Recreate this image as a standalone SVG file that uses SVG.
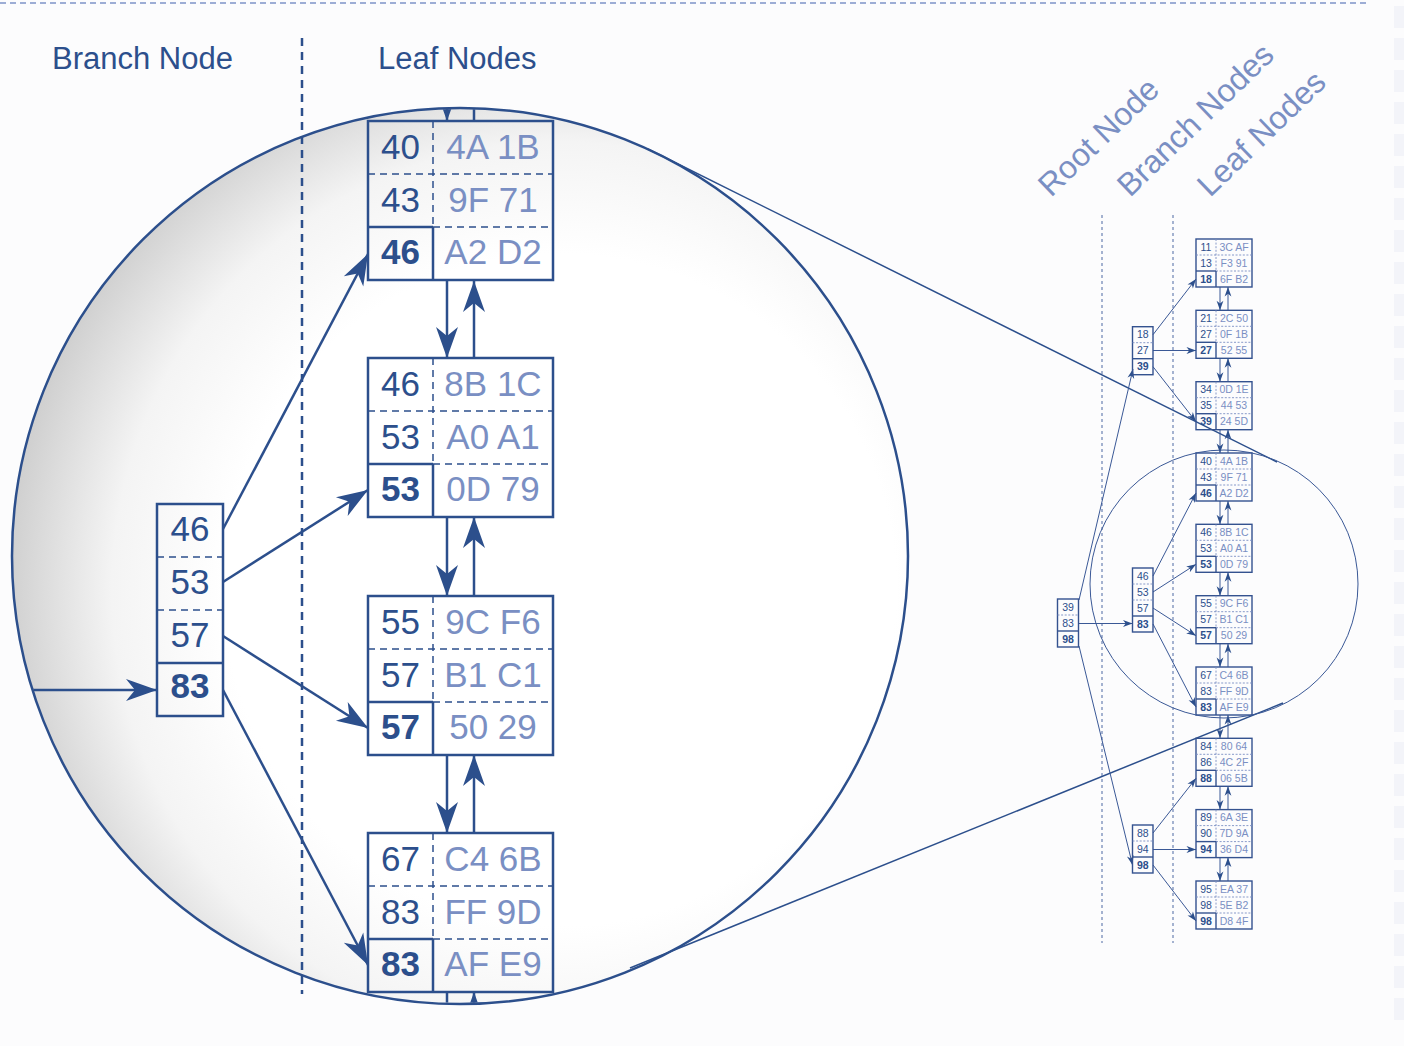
<svg xmlns="http://www.w3.org/2000/svg" width="1404" height="1046" viewBox="0 0 1404 1046">
<defs>
<style>
text{font-family:"Liberation Sans",Arial,Helvetica,sans-serif}
.bk{font-size:35px;fill:#2c4f8c;text-anchor:middle}
.bv{font-size:35px;fill:#7a8fc3;text-anchor:middle}
.b{font-weight:bold}
.bbox{fill:none;stroke:#2c4f8c;stroke-width:2.5}
.bdash{fill:none;stroke:#2c4f8c;stroke-width:1.5;stroke-dasharray:7,5}
.bsol{fill:none;stroke:#2c4f8c;stroke-width:2.5}
.bcon{fill:none;stroke:#2c4f8c;stroke-width:2.5}
.sk{font-size:10.5px;fill:#2c4f8c;text-anchor:middle}
.sv{font-size:10.5px;fill:#7a8fc3;text-anchor:middle}
.sbox{fill:none;stroke:#34528f;stroke-width:1.4}
.sdash{fill:none;stroke:#7a8fc3;stroke-width:0.9;stroke-dasharray:2,1.6}
.ssol{fill:none;stroke:#34528f;stroke-width:1.4}
.scon{fill:none;stroke:#3a5896;stroke-width:1}
.title{font-size:31px;fill:#2c4f8c}
.rot{font-size:32px;fill:#7a8fc3}
</style>
<radialGradient id="lens" gradientUnits="userSpaceOnUse" cx="560" cy="590" r="560">
<stop offset="0.6" stop-color="#ffffff"/>
<stop offset="0.8" stop-color="#f4f4f4"/>
<stop offset="1" stop-color="#cdcdcd"/>
</radialGradient>
<clipPath id="lensclip"><circle cx="460" cy="556" r="447"/></clipPath>
<marker id="ab" markerUnits="userSpaceOnUse" markerWidth="40" markerHeight="40" refX="0" refY="0" orient="auto" overflow="visible">
<path d="M0,0 L-31,-11 L-22,0 L-31,11 Z" fill="#2c4f8c"/>
</marker>
<marker id="as" markerUnits="userSpaceOnUse" markerWidth="12" markerHeight="12" refX="0" refY="0" orient="auto" overflow="visible">
<path d="M0,0 L-9.5,-3.4 L-6.8,0 L-9.5,3.4 Z" fill="#2c4f8c"/>
</marker>
</defs>

<rect x="0" y="0" width="1404" height="1046" fill="#fcfcfd"/>
<g id="edge-pattern" fill="#f3f4f9">
<rect x="1394" y="6" width="10" height="22"/><rect x="1394" y="38" width="10" height="22"/><rect x="1394" y="70" width="10" height="22"/><rect x="1394" y="102" width="10" height="22"/><rect x="1394" y="134" width="10" height="22"/><rect x="1394" y="166" width="10" height="22"/><rect x="1394" y="198" width="10" height="22"/><rect x="1394" y="230" width="10" height="22"/><rect x="1394" y="262" width="10" height="22"/><rect x="1394" y="294" width="10" height="22"/><rect x="1394" y="326" width="10" height="22"/><rect x="1394" y="358" width="10" height="22"/><rect x="1394" y="390" width="10" height="22"/><rect x="1394" y="422" width="10" height="22"/><rect x="1394" y="454" width="10" height="22"/><rect x="1394" y="486" width="10" height="22"/><rect x="1394" y="518" width="10" height="22"/><rect x="1394" y="550" width="10" height="22"/><rect x="1394" y="582" width="10" height="22"/><rect x="1394" y="614" width="10" height="22"/><rect x="1394" y="646" width="10" height="22"/><rect x="1394" y="678" width="10" height="22"/><rect x="1394" y="710" width="10" height="22"/><rect x="1394" y="742" width="10" height="22"/><rect x="1394" y="774" width="10" height="22"/><rect x="1394" y="806" width="10" height="22"/><rect x="1394" y="838" width="10" height="22"/><rect x="1394" y="870" width="10" height="22"/><rect x="1394" y="902" width="10" height="22"/><rect x="1394" y="934" width="10" height="22"/><rect x="1394" y="966" width="10" height="22"/><rect x="1394" y="998" width="10" height="22"/>
</g>
<line x1="0" y1="3" x2="1370" y2="3" stroke="#7d92c8" stroke-width="1.5" stroke-dasharray="6,4"/>

<g id="labels">
<text class="title" x="52" y="69">Branch Node</text>
<text class="title" x="378" y="69">Leaf Nodes</text>
<text class="rot" transform="translate(1051,198) rotate(-44)">Root Node</text>
<text class="rot" transform="translate(1130,198) rotate(-44)">Branch Nodes</text>
<text class="rot" transform="translate(1210,198) rotate(-44)">Leaf Nodes</text>
</g>

<g id="lens-big">
<circle cx="460" cy="556" r="448" fill="url(#lens)"/>
</g>
<line id="divider" x1="302" y1="38" x2="302" y2="994" stroke="#2c4f8c" stroke-width="2.5" stroke-dasharray="8,6"/>

<g clip-path="url(#lensclip)">
<g id="connectors-big" class="bcon">
<line x1="20" y1="690" x2="157" y2="690" marker-end="url(#ab)"/>
<line x1="223" y1="529" x2="368" y2="254" marker-end="url(#ab)"/>
<line x1="223" y1="582" x2="368" y2="490" marker-end="url(#ab)"/>
<line x1="223" y1="636" x2="368" y2="728" marker-end="url(#ab)"/>
<line x1="223" y1="690" x2="368" y2="965" marker-end="url(#ab)"/>
<line x1="447" y1="95" x2="447" y2="121" marker-end="url(#ab)"/>
<line x1="474" y1="121" x2="474" y2="95"/>
<line x1="447" y1="281" x2="447" y2="358" marker-end="url(#ab)"/>
<line x1="474" y1="358" x2="474" y2="281" marker-end="url(#ab)"/>
<line x1="447" y1="517" x2="447" y2="596" marker-end="url(#ab)"/>
<line x1="474" y1="596" x2="474" y2="517" marker-end="url(#ab)"/>
<line x1="447" y1="755" x2="447" y2="833" marker-end="url(#ab)"/>
<line x1="474" y1="833" x2="474" y2="755" marker-end="url(#ab)"/>
<line x1="447" y1="992" x2="447" y2="1015"/>
<line x1="474" y1="1022" x2="474" y2="992" marker-end="url(#ab)"/>
</g>

<g id="branch-big" transform="translate(157,504)">
<rect class="bbox" x="0" y="0" width="66" height="212"/>
<line class="bdash" x1="0" y1="53" x2="66" y2="53"/>
<line class="bdash" x1="0" y1="106" x2="66" y2="106"/>
<line class="bsol" x1="0" y1="159" x2="66" y2="159"/>
<text class="bk" x="33" y="37">46</text>
<text class="bk" x="33" y="90">53</text>
<text class="bk" x="33" y="143">57</text>
<text class="bk b" x="33" y="194">83</text>
</g>

<g id="leaf-big-1" transform="translate(368,121)">
<rect class="bbox" x="0" y="0" width="185" height="159"/>
<line class="bdash" x1="0" y1="53" x2="185" y2="53"/>
<line class="bdash" x1="65" y1="106" x2="185" y2="106"/>
<line class="bsol" x1="0" y1="106" x2="65" y2="106"/>
<line class="bdash" x1="65" y1="0" x2="65" y2="106"/>
<line class="bsol" x1="65" y1="106" x2="65" y2="159"/>
<text class="bk" x="32.5" y="37.5">40</text><text class="bv" x="125" y="37.5">4A 1B</text>
<text class="bk" x="32.5" y="90.5">43</text><text class="bv" x="125" y="90.5">9F 71</text>
<text class="bk b" x="32.5" y="142.5">46</text><text class="bv" x="125" y="142.5">A2 D2</text>
</g>
<g id="leaf-big-2" transform="translate(368,358)">
<rect class="bbox" x="0" y="0" width="185" height="159"/>
<line class="bdash" x1="0" y1="53" x2="185" y2="53"/>
<line class="bdash" x1="65" y1="106" x2="185" y2="106"/>
<line class="bsol" x1="0" y1="106" x2="65" y2="106"/>
<line class="bdash" x1="65" y1="0" x2="65" y2="106"/>
<line class="bsol" x1="65" y1="106" x2="65" y2="159"/>
<text class="bk" x="32.5" y="37.5">46</text><text class="bv" x="125" y="37.5">8B 1C</text>
<text class="bk" x="32.5" y="90.5">53</text><text class="bv" x="125" y="90.5">A0 A1</text>
<text class="bk b" x="32.5" y="142.5">53</text><text class="bv" x="125" y="142.5">0D 79</text>
</g>
<g id="leaf-big-3" transform="translate(368,596)">
<rect class="bbox" x="0" y="0" width="185" height="159"/>
<line class="bdash" x1="0" y1="53" x2="185" y2="53"/>
<line class="bdash" x1="65" y1="106" x2="185" y2="106"/>
<line class="bsol" x1="0" y1="106" x2="65" y2="106"/>
<line class="bdash" x1="65" y1="0" x2="65" y2="106"/>
<line class="bsol" x1="65" y1="106" x2="65" y2="159"/>
<text class="bk" x="32.5" y="37.5">55</text><text class="bv" x="125" y="37.5">9C F6</text>
<text class="bk" x="32.5" y="90.5">57</text><text class="bv" x="125" y="90.5">B1 C1</text>
<text class="bk b" x="32.5" y="142.5">57</text><text class="bv" x="125" y="142.5">50 29</text>
</g>
<g id="leaf-big-4" transform="translate(368,833)">
<rect class="bbox" x="0" y="0" width="185" height="159"/>
<line class="bdash" x1="0" y1="53" x2="185" y2="53"/>
<line class="bdash" x1="65" y1="106" x2="185" y2="106"/>
<line class="bsol" x1="0" y1="106" x2="65" y2="106"/>
<line class="bdash" x1="65" y1="0" x2="65" y2="106"/>
<line class="bsol" x1="65" y1="106" x2="65" y2="159"/>
<text class="bk" x="32.5" y="37.5">67</text><text class="bv" x="125" y="37.5">C4 6B</text>
<text class="bk" x="32.5" y="90.5">83</text><text class="bv" x="125" y="90.5">FF 9D</text>
<text class="bk b" x="32.5" y="142.5">83</text><text class="bv" x="125" y="142.5">AF E9</text>
</g>
</g>
<circle cx="460" cy="556" r="448" fill="none" stroke="#2c4f8c" stroke-width="2.5"/>

<g id="lens-lines" stroke="#2c4f8c" stroke-width="1.5" fill="none">
<line x1="648" y1="149" x2="1277" y2="462"/>
<line x1="630" y1="968" x2="1283" y2="703"/>
</g>

<g id="small-guides" stroke="#4d68a3" stroke-width="1" stroke-dasharray="3,3">
<line x1="1102" y1="215" x2="1102" y2="943"/>
<line x1="1173" y1="215" x2="1173" y2="943"/>
</g>

<g id="connectors-small" class="scon">
<line x1="1079" y1="600" x2="1133" y2="369" marker-end="url(#as)"/>
<line x1="1078.5" y1="623.5" x2="1132.5" y2="623.5" marker-end="url(#as)"/>
<line x1="1079" y1="646" x2="1132.5" y2="865" marker-end="url(#as)"/>
<line x1="1153" y1="334.7" x2="1196" y2="279" marker-end="url(#as)"/>
<line x1="1153" y1="350.5" x2="1196" y2="350.5" marker-end="url(#as)"/>
<line x1="1153" y1="366.7" x2="1196" y2="421.7" marker-end="url(#as)"/>
<line x1="1153" y1="576" x2="1196" y2="493" marker-end="url(#as)"/>
<line x1="1153" y1="592" x2="1196" y2="564.3" marker-end="url(#as)"/>
<line x1="1153" y1="608" x2="1196" y2="635.7" marker-end="url(#as)"/>
<line x1="1153" y1="624" x2="1196" y2="707" marker-end="url(#as)"/>
<line x1="1153" y1="833" x2="1196" y2="778.3" marker-end="url(#as)"/>
<line x1="1153" y1="849.5" x2="1196" y2="849.5" marker-end="url(#as)"/>
<line x1="1153" y1="865" x2="1196" y2="921" marker-end="url(#as)"/>
<line x1="1220" y1="287" x2="1220" y2="310.3" marker-end="url(#as)"/>
<line x1="1228" y1="310.3" x2="1228" y2="287" marker-end="url(#as)"/>
<line x1="1220" y1="358.3" x2="1220" y2="381.7" marker-end="url(#as)"/>
<line x1="1228" y1="381.7" x2="1228" y2="358.3" marker-end="url(#as)"/>
<line x1="1220" y1="429.7" x2="1220" y2="453" marker-end="url(#as)"/>
<line x1="1228" y1="453" x2="1228" y2="429.7" marker-end="url(#as)"/>
<line x1="1220" y1="501" x2="1220" y2="524.3" marker-end="url(#as)"/>
<line x1="1228" y1="524.3" x2="1228" y2="501" marker-end="url(#as)"/>
<line x1="1220" y1="572.3" x2="1220" y2="595.7" marker-end="url(#as)"/>
<line x1="1228" y1="595.7" x2="1228" y2="572.3" marker-end="url(#as)"/>
<line x1="1220" y1="643.7" x2="1220" y2="667" marker-end="url(#as)"/>
<line x1="1228" y1="667" x2="1228" y2="643.7" marker-end="url(#as)"/>
<line x1="1220" y1="715" x2="1220" y2="738.3" marker-end="url(#as)"/>
<line x1="1228" y1="738.3" x2="1228" y2="715" marker-end="url(#as)"/>
<line x1="1220" y1="786.3" x2="1220" y2="809.6" marker-end="url(#as)"/>
<line x1="1228" y1="809.6" x2="1228" y2="786.3" marker-end="url(#as)"/>
<line x1="1220" y1="857.6" x2="1220" y2="881" marker-end="url(#as)"/>
<line x1="1228" y1="881" x2="1228" y2="857.6" marker-end="url(#as)"/>
</g>

<g id="root-small" transform="translate(1057.5,599)">
<rect class="sbox" x="0" y="0" width="21" height="48"/>
<line class="sdash" x1="0" y1="16" x2="21" y2="16"/>
<line class="ssol" x1="0" y1="32" x2="21" y2="32"/>
<text class="sk" x="10.5" y="11.7">39</text>
<text class="sk" x="10.5" y="27.7">83</text>
<text class="sk b" x="10.5" y="43.7">98</text>
</g>
<g id="branch-small-1" transform="translate(1132.5,326.7)">
<rect class="sbox" x="0" y="0" width="20.5" height="48"/>
<line class="sdash" x1="0" y1="16" x2="20.5" y2="16"/>
<line class="ssol" x1="0" y1="32" x2="20.5" y2="32"/>
<text class="sk" x="10.3" y="11.7">18</text>
<text class="sk" x="10.3" y="27.7">27</text>
<text class="sk b" x="10.3" y="43.7">39</text>
</g>
<g id="branch-small-2" transform="translate(1132.5,568)">
<rect class="sbox" x="0" y="0" width="20.5" height="64"/>
<line class="sdash" x1="0" y1="16" x2="20.5" y2="16"/>
<line class="sdash" x1="0" y1="32" x2="20.5" y2="32"/>
<line class="ssol" x1="0" y1="48" x2="20.5" y2="48"/>
<text class="sk" x="10.3" y="11.7">46</text>
<text class="sk" x="10.3" y="27.7">53</text>
<text class="sk" x="10.3" y="43.7">57</text>
<text class="sk b" x="10.3" y="59.7">83</text>
</g>
<g id="branch-small-3" transform="translate(1132.5,825)">
<rect class="sbox" x="0" y="0" width="20.5" height="48"/>
<line class="sdash" x1="0" y1="16" x2="20.5" y2="16"/>
<line class="ssol" x1="0" y1="32" x2="20.5" y2="32"/>
<text class="sk" x="10.3" y="11.7">88</text>
<text class="sk" x="10.3" y="27.7">94</text>
<text class="sk b" x="10.3" y="43.7">98</text>
</g>

<g id="leaf-small-1" transform="translate(1196,239)">
<rect class="sbox" x="0" y="0" width="56" height="48"/><line class="sdash" x1="0" y1="16" x2="56" y2="16"/><line class="sdash" x1="20" y1="32" x2="56" y2="32"/><line class="ssol" x1="0" y1="32" x2="20" y2="32"/><line class="sdash" x1="20" y1="0" x2="20" y2="32"/><line class="ssol" x1="20" y1="32" x2="20" y2="48"/>
<text class="sk" x="10" y="11.7">11</text><text class="sv" x="38" y="11.7">3C AF</text>
<text class="sk" x="10" y="27.7">13</text><text class="sv" x="38" y="27.7">F3 91</text>
<text class="sk b" x="10" y="43.7">18</text><text class="sv" x="38" y="43.7">6F B2</text>
</g>
<g id="leaf-small-2" transform="translate(1196,310.3)">
<rect class="sbox" x="0" y="0" width="56" height="48"/><line class="sdash" x1="0" y1="16" x2="56" y2="16"/><line class="sdash" x1="20" y1="32" x2="56" y2="32"/><line class="ssol" x1="0" y1="32" x2="20" y2="32"/><line class="sdash" x1="20" y1="0" x2="20" y2="32"/><line class="ssol" x1="20" y1="32" x2="20" y2="48"/>
<text class="sk" x="10" y="11.7">21</text><text class="sv" x="38" y="11.7">2C 50</text>
<text class="sk" x="10" y="27.7">27</text><text class="sv" x="38" y="27.7">0F 1B</text>
<text class="sk b" x="10" y="43.7">27</text><text class="sv" x="38" y="43.7">52 55</text>
</g>
<g id="leaf-small-3" transform="translate(1196,381.7)">
<rect class="sbox" x="0" y="0" width="56" height="48"/><line class="sdash" x1="0" y1="16" x2="56" y2="16"/><line class="sdash" x1="20" y1="32" x2="56" y2="32"/><line class="ssol" x1="0" y1="32" x2="20" y2="32"/><line class="sdash" x1="20" y1="0" x2="20" y2="32"/><line class="ssol" x1="20" y1="32" x2="20" y2="48"/>
<text class="sk" x="10" y="11.7">34</text><text class="sv" x="38" y="11.7">0D 1E</text>
<text class="sk" x="10" y="27.7">35</text><text class="sv" x="38" y="27.7">44 53</text>
<text class="sk b" x="10" y="43.7">39</text><text class="sv" x="38" y="43.7">24 5D</text>
</g>
<g id="leaf-small-4" transform="translate(1196,453)">
<rect class="sbox" x="0" y="0" width="56" height="48"/><line class="sdash" x1="0" y1="16" x2="56" y2="16"/><line class="sdash" x1="20" y1="32" x2="56" y2="32"/><line class="ssol" x1="0" y1="32" x2="20" y2="32"/><line class="sdash" x1="20" y1="0" x2="20" y2="32"/><line class="ssol" x1="20" y1="32" x2="20" y2="48"/>
<text class="sk" x="10" y="11.7">40</text><text class="sv" x="38" y="11.7">4A 1B</text>
<text class="sk" x="10" y="27.7">43</text><text class="sv" x="38" y="27.7">9F 71</text>
<text class="sk b" x="10" y="43.7">46</text><text class="sv" x="38" y="43.7">A2 D2</text>
</g>
<g id="leaf-small-5" transform="translate(1196,524.3)">
<rect class="sbox" x="0" y="0" width="56" height="48"/><line class="sdash" x1="0" y1="16" x2="56" y2="16"/><line class="sdash" x1="20" y1="32" x2="56" y2="32"/><line class="ssol" x1="0" y1="32" x2="20" y2="32"/><line class="sdash" x1="20" y1="0" x2="20" y2="32"/><line class="ssol" x1="20" y1="32" x2="20" y2="48"/>
<text class="sk" x="10" y="11.7">46</text><text class="sv" x="38" y="11.7">8B 1C</text>
<text class="sk" x="10" y="27.7">53</text><text class="sv" x="38" y="27.7">A0 A1</text>
<text class="sk b" x="10" y="43.7">53</text><text class="sv" x="38" y="43.7">0D 79</text>
</g>
<g id="leaf-small-6" transform="translate(1196,595.7)">
<rect class="sbox" x="0" y="0" width="56" height="48"/><line class="sdash" x1="0" y1="16" x2="56" y2="16"/><line class="sdash" x1="20" y1="32" x2="56" y2="32"/><line class="ssol" x1="0" y1="32" x2="20" y2="32"/><line class="sdash" x1="20" y1="0" x2="20" y2="32"/><line class="ssol" x1="20" y1="32" x2="20" y2="48"/>
<text class="sk" x="10" y="11.7">55</text><text class="sv" x="38" y="11.7">9C F6</text>
<text class="sk" x="10" y="27.7">57</text><text class="sv" x="38" y="27.7">B1 C1</text>
<text class="sk b" x="10" y="43.7">57</text><text class="sv" x="38" y="43.7">50 29</text>
</g>
<g id="leaf-small-7" transform="translate(1196,667)">
<rect class="sbox" x="0" y="0" width="56" height="48"/><line class="sdash" x1="0" y1="16" x2="56" y2="16"/><line class="sdash" x1="20" y1="32" x2="56" y2="32"/><line class="ssol" x1="0" y1="32" x2="20" y2="32"/><line class="sdash" x1="20" y1="0" x2="20" y2="32"/><line class="ssol" x1="20" y1="32" x2="20" y2="48"/>
<text class="sk" x="10" y="11.7">67</text><text class="sv" x="38" y="11.7">C4 6B</text>
<text class="sk" x="10" y="27.7">83</text><text class="sv" x="38" y="27.7">FF 9D</text>
<text class="sk b" x="10" y="43.7">83</text><text class="sv" x="38" y="43.7">AF E9</text>
</g>
<g id="leaf-small-8" transform="translate(1196,738.3)">
<rect class="sbox" x="0" y="0" width="56" height="48"/><line class="sdash" x1="0" y1="16" x2="56" y2="16"/><line class="sdash" x1="20" y1="32" x2="56" y2="32"/><line class="ssol" x1="0" y1="32" x2="20" y2="32"/><line class="sdash" x1="20" y1="0" x2="20" y2="32"/><line class="ssol" x1="20" y1="32" x2="20" y2="48"/>
<text class="sk" x="10" y="11.7">84</text><text class="sv" x="38" y="11.7">80 64</text>
<text class="sk" x="10" y="27.7">86</text><text class="sv" x="38" y="27.7">4C 2F</text>
<text class="sk b" x="10" y="43.7">88</text><text class="sv" x="38" y="43.7">06 5B</text>
</g>
<g id="leaf-small-9" transform="translate(1196,809.6)">
<rect class="sbox" x="0" y="0" width="56" height="48"/><line class="sdash" x1="0" y1="16" x2="56" y2="16"/><line class="sdash" x1="20" y1="32" x2="56" y2="32"/><line class="ssol" x1="0" y1="32" x2="20" y2="32"/><line class="sdash" x1="20" y1="0" x2="20" y2="32"/><line class="ssol" x1="20" y1="32" x2="20" y2="48"/>
<text class="sk" x="10" y="11.7">89</text><text class="sv" x="38" y="11.7">6A 3E</text>
<text class="sk" x="10" y="27.7">90</text><text class="sv" x="38" y="27.7">7D 9A</text>
<text class="sk b" x="10" y="43.7">94</text><text class="sv" x="38" y="43.7">36 D4</text>
</g>
<g id="leaf-small-10" transform="translate(1196,881)">
<rect class="sbox" x="0" y="0" width="56" height="48"/><line class="sdash" x1="0" y1="16" x2="56" y2="16"/><line class="sdash" x1="20" y1="32" x2="56" y2="32"/><line class="ssol" x1="0" y1="32" x2="20" y2="32"/><line class="sdash" x1="20" y1="0" x2="20" y2="32"/><line class="ssol" x1="20" y1="32" x2="20" y2="48"/>
<text class="sk" x="10" y="11.7">95</text><text class="sv" x="38" y="11.7">EA 37</text>
<text class="sk" x="10" y="27.7">98</text><text class="sv" x="38" y="27.7">5E B2</text>
<text class="sk b" x="10" y="43.7">98</text><text class="sv" x="38" y="43.7">D8 4F</text>
</g>

<circle id="lens-small" cx="1224" cy="584" r="134" fill="none" stroke="#3a5896" stroke-width="1"/>
</svg>
